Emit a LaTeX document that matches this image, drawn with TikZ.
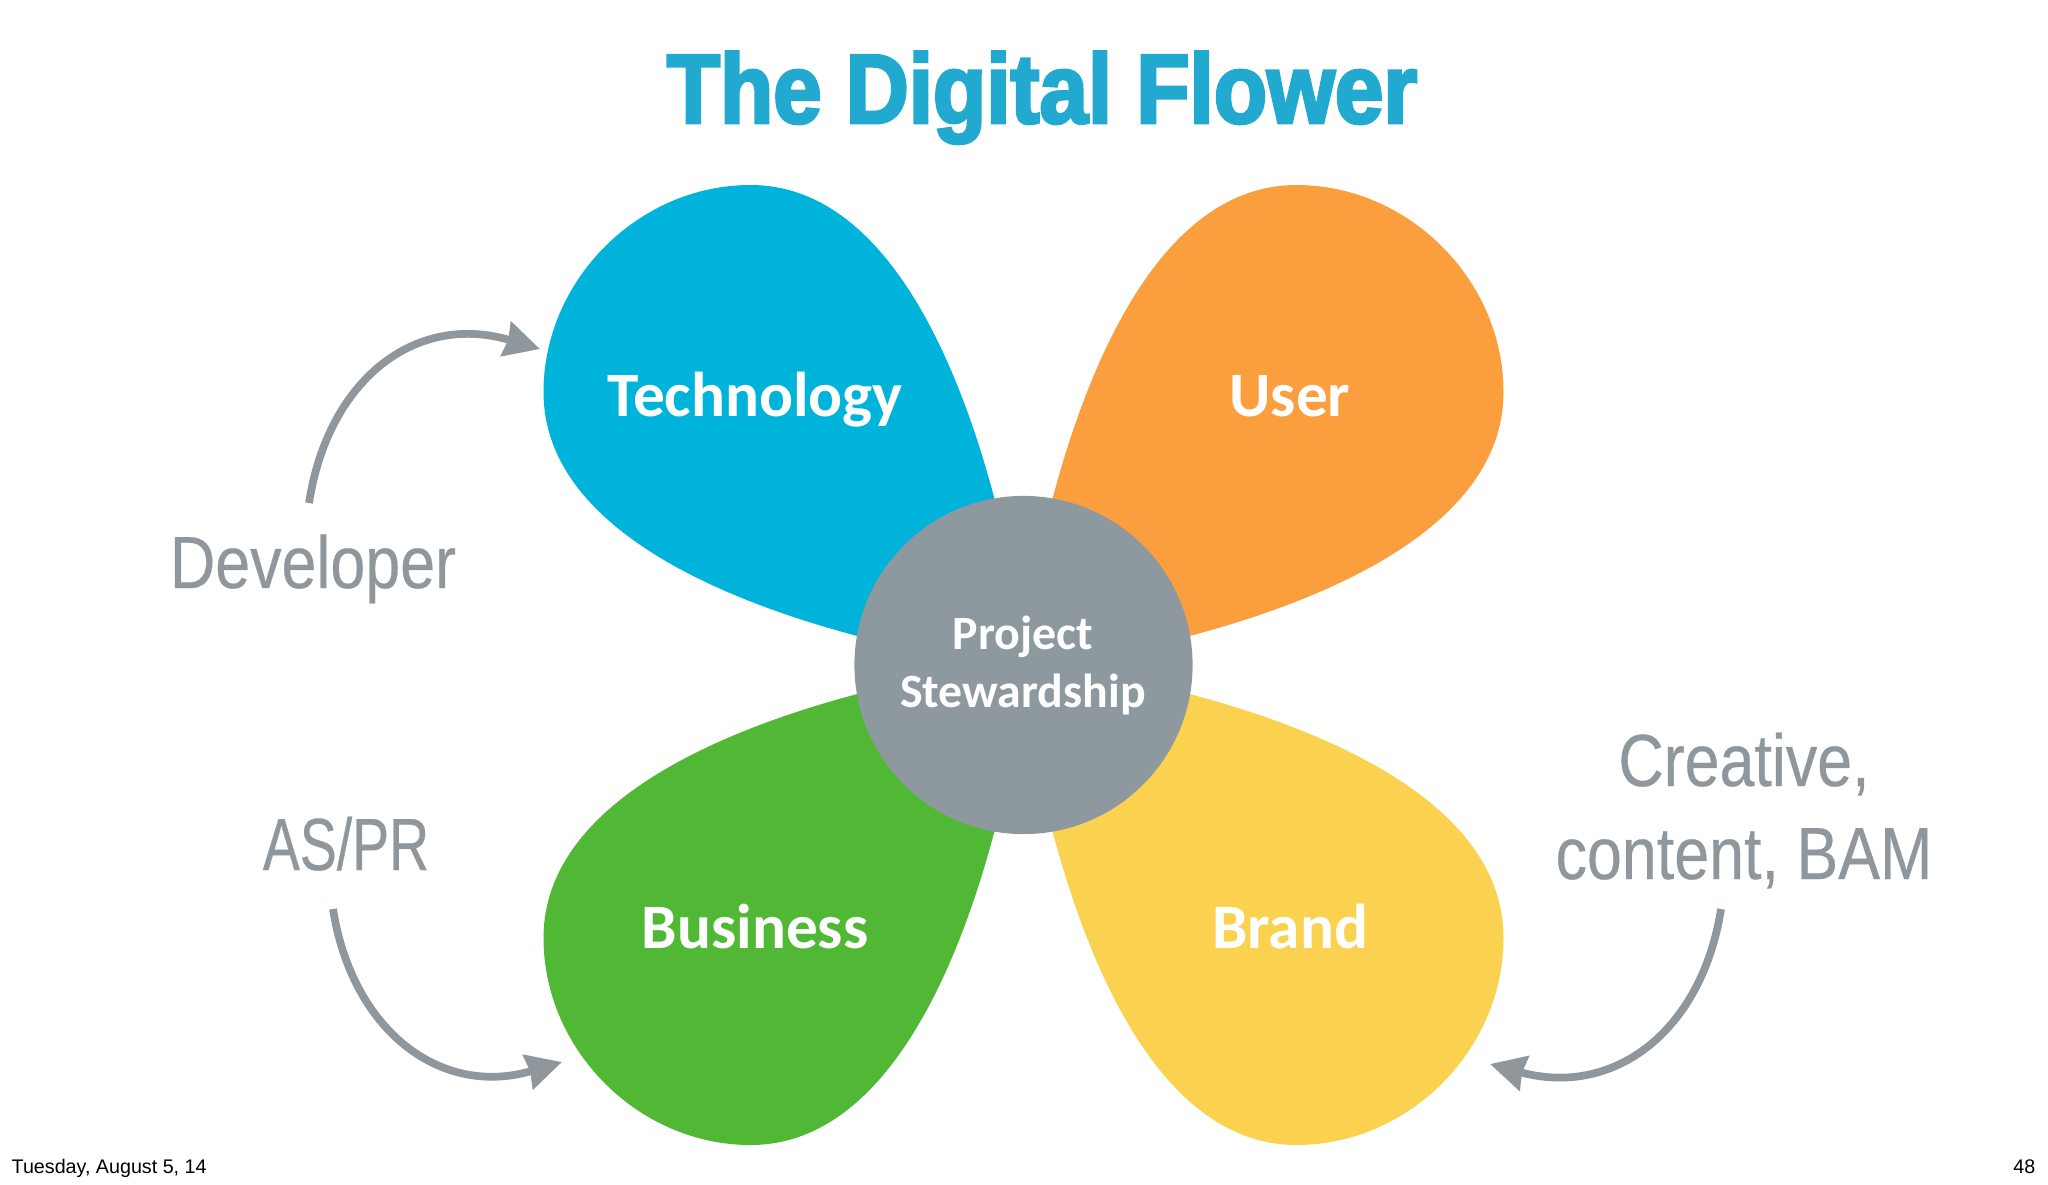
\documentclass[tikz,border=0pt]{standalone}
\usepackage{fontspec}
\usetikzlibrary{arrows.meta}
\setmainfont{Carlito}
\newfontfamily\titlefont[FakeStretch=0.885,FakeBold=3]{Liberation Sans}
\newfontfamily\sidefont[FakeStretch=0.85,FakeBold=0.4]{Liberation Sans}
\newfontfamily\asprfont[FakeStretch=0.75,FakeBold=0.4]{Liberation Sans}
\newfontfamily\footfont{Liberation Sans}
\definecolor{titleblue}{HTML}{22A9CF}
\definecolor{techblue}{HTML}{00B3DA}
\definecolor{userorange}{HTML}{FB9E3D}
\definecolor{bizgreen}{HTML}{50B835}
\definecolor{brandyellow}{HTML}{FAD24F}
\definecolor{hubgray}{HTML}{8D999E}
\definecolor{sidegray}{HTML}{90979C}
\tikzset{
  petallabel/.style={text=white, font=\bfseries\fontsize{18}{20}\selectfont, inner sep=0pt, anchor=base},
  hublabel/.style={petallabel, font=\bfseries\fontsize{13.6}{15}\selectfont},
  sidelabel/.style={text=sidegray, font=\sidefont\fontsize{21}{20.5}\selectfont, align=center, inner sep=0pt, anchor=base},
  footlabel/.style={text=black, font=\footfont\fontsize{5.6}{7}\selectfont, inner sep=0pt, anchor=base west},
  sidearrow/.style={draw=sidegray, line width=2.2pt, -{Stealth[length=10pt,width=10pt,inset=0.6pt]}}
}
\newcommand{\petalat}[3]{%
  \fill[#3, shift={(1023.5,665)}, xscale=#1, yscale=#2]
    (-20,-130) .. controls (-55,-280) and (-130,-480) .. (-273,-480)
    .. controls (-385,-480) and (-480,-385) .. (-480,-273)
    .. controls (-480,-130) and (-280,-55) .. (-130,-20) -- cycle;}
\begin{document}
\begin{tikzpicture}[x=0.01cm, y=-0.01cm]
        \useasboundingbox (0,0) rectangle (2048,1184);

        % Petals
        \petalat{1}{1}{techblue}
        \petalat{-1}{1}{userorange}
        \petalat{1}{-1}{bizgreen}
        \petalat{-1}{-1}{brandyellow}

        % Nodes
        \node (title) [text=titleblue, font=\titlefont\bfseries\fontsize{28}{30}\selectfont, inner sep=0pt, anchor=base] at (1042,123) {The Digital Flower};
        \node (hub) [circle, fill=hubgray, minimum size=3.38cm, inner sep=0pt] at (1023.5,665) {};
        \node (project) [hublabel] at (1023,649) {Project};
        \node (stewardship) [hublabel] at (1023,707) {Stewardship};
        \node (technology) [petallabel] at (755,416) {Technology};
        \node (user) [petallabel] at (1290,416) {User};
        \node (business) [petallabel] at (755,948) {Business};
        \node (brand) [petallabel] at (1290,948) {Brand};
        \node (developer) [sidelabel] at (313,588) {Developer};
        \node (aspr) [sidelabel, font=\asprfont\fontsize{21}{20.5}\selectfont] at (346,870) {AS/PR};
        \node (creative) [sidelabel] at (1744,786) {Creative,};
        \node (content) [sidelabel] at (1744,879) {content, BAM};
        \node (date) [footlabel] at (11,1173) {Tuesday, August 5, 14};
        \node (page) [footlabel, anchor=base east] at (2036,1173) {48};

        % Edges
        \coordinate (devstart) at (309,503);
        \coordinate (devend) at (540,349);
        \coordinate (asstart) at (333,909);
        \coordinate (asend) at (562,1062);
        \coordinate (crestart) at (1721,909);
        \coordinate (creend) at (1490,1064);
        \draw[sidearrow] (devstart) .. controls (328,380) and (415,312) .. (devend);
        \draw[sidearrow] (asstart) .. controls (352,1030) and (440,1098) .. (asend);
        \draw[sidearrow] (crestart) .. controls (1702,1030) and (1615,1098) .. (creend);
    \end{tikzpicture}
\end{document}
